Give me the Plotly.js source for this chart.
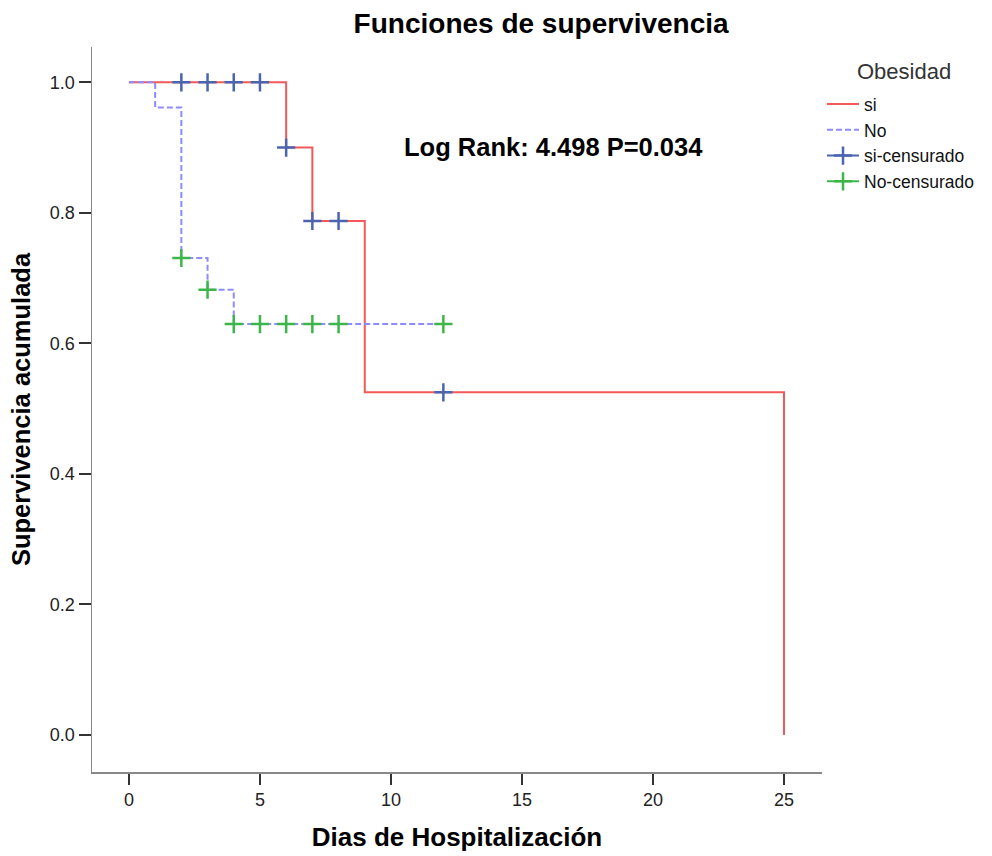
<!DOCTYPE html>
<html>
<head>
<meta charset="utf-8">
<script src="https://cdn.plot.ly/plotly-3.0.1.min.js"></script>
<style>html,body{margin:0;padding:0;background:#fff;}#chart{width:992px;height:856px;}</style>
</head>
<body>
<div id="chart"></div>
<script>
// Kaplan-Meier step data
const siTime = [0, 6, 7, 9, 25];
const siSurv = [1.0, 0.9, 0.7875, 0.525, 0.0];
const noTime = [0, 1, 2, 3, 4, 12];
const noSurv = [1.0, 0.9615, 0.7308, 0.6823, 0.6296, 0.6296];
// censored observations
const siCensTime = [2, 3, 4, 5, 6, 7, 8, 12];
const siCensSurv = [1.0, 1.0, 1.0, 1.0, 0.9, 0.7875, 0.7875, 0.525];
const noCensTime = [2, 3, 4, 5, 6, 7, 8, 12];
const noCensSurv = [0.7308, 0.6823, 0.6296, 0.6296, 0.6296, 0.6296, 0.6296, 0.6296];
const xTicks = [0, 5, 10, 15, 20, 25];
const yTicks = [0.0, 0.2, 0.4, 0.6, 0.8, 1.0];
const yTickText = ['0.0', '0.2', '0.4', '0.6', '0.8', '1.0'];
const seriesNames = ['si', 'No', 'si-censurado', 'No-censurado'];
const legendTitle = 'Obesidad';
const chartTitle = 'Funciones de supervivencia';
const xTitle = 'Dias de Hospitalización';
const yTitle = 'Supervivencia acumulada';
const statText = 'Log Rank: 4.498 P=0.034';

function withGaps(arr) {
  const out = [];
  arr.forEach((v, i) => { if (i > 0) out.push(null); out.push(v); });
  return out;
}

const sans = '"Liberation Sans", Arial, sans-serif';

const traces = [
  {x: siTime, y: siSurv, name: seriesNames[0], mode: 'lines', line: {shape: 'hv', color: '#f25a5a', width: 2}},
  {x: noTime, y: noSurv, name: seriesNames[1], mode: 'lines', line: {shape: 'hv', color: '#8c8cff', width: 2, dash: '6px,3px'}},
  {x: withGaps(siCensTime), y: withGaps(siCensSurv), name: seriesNames[2], mode: 'lines+markers', connectgaps: false,
   line: {color: '#4a64b0', width: 2}, marker: {symbol: 'cross-thin', size: 13, line: {color: '#4a64b0', width: 2.5}}},
  {x: withGaps(noCensTime), y: withGaps(noCensSurv), name: seriesNames[3], mode: 'lines+markers', connectgaps: false,
   line: {color: '#3cb64a', width: 2}, marker: {symbol: 'cross-thin', size: 13, line: {color: '#3cb64a', width: 2.5}}}
];

const layout = {
  width: 992, height: 856,
  paper_bgcolor: '#ffffff', plot_bgcolor: '#ffffff',
  margin: {l: 92, r: 170, t: 47, b: 84, autoexpand: false},
  showlegend: true,
  title: {text: chartTitle, font: {family: sans, size: 28, color: '#000', weight: 'bold'},
          xref: 'container', x: 0.5455, xanchor: 'center', yref: 'container', y: 0.973, yanchor: 'middle'},
  xaxis: {
    range: [-1.41, 26.45], tickvals: xTicks, ticktext: xTicks.map(String),
    showgrid: false, zeroline: false, showline: true, linecolor: '#888', linewidth: 1.5, mirror: false,
    ticks: 'outside', ticklen: 11, tickwidth: 2, tickcolor: '#333',
    tickfont: {family: sans, size: 18, color: '#222'},
    title: {text: xTitle, font: {family: sans, size: 26, color: '#000', weight: 'bold'}, standoff: 18},
    automargin: false, fixedrange: true
  },
  yaxis: {
    range: [-0.0567, 1.0541], tickvals: yTicks, ticktext: yTickText,
    showgrid: false, zeroline: false, showline: true, linecolor: '#888', linewidth: 1.5, mirror: false,
    ticks: 'outside', ticklen: 12, tickwidth: 2, tickcolor: '#333',
    tickfont: {family: sans, size: 18, color: '#222'},
    title: {text: yTitle, font: {family: sans, size: 25.5, color: '#000', weight: 'bold'}, standoff: 12},
    automargin: false, fixedrange: true
  },
  legend: {
    x: 1.0, xanchor: 'left', y: 0.946, yanchor: 'top',
    bgcolor: 'rgba(0,0,0,0)', borderwidth: 0,
    font: {family: sans, size: 17.5, color: '#111'},
    itemwidth: 32, tracegroupgap: 0
  },
  annotations: [
    {text: statText, xref: 'x', yref: 'y', x: 16.2, y: 0.901, showarrow: false,
     xanchor: 'center', yanchor: 'middle',
     font: {family: sans, size: 25.5, color: '#000', weight: 'bold'}},
    {text: legendTitle, xref: 'paper', yref: 'paper', x: 1.0, y: 1 - (71 - 47) / 725, showarrow: false,
     xanchor: 'left', yanchor: 'middle', xshift: 33,
     font: {family: sans, size: 22, color: '#333'}}
  ]
};

Plotly.newPlot('chart', traces, layout, {displayModeBar: false, staticPlot: true});
</script>
</body>
</html>
